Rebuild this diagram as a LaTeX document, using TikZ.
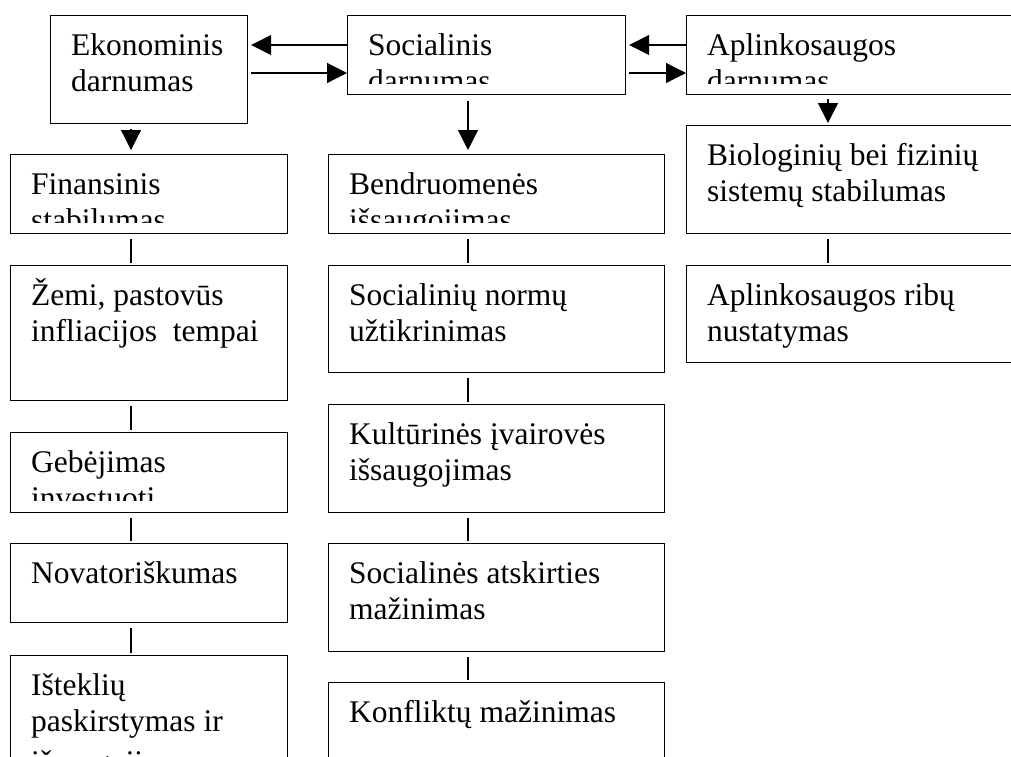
\documentclass[tikz,border=0pt]{standalone}
\usepackage{fontspec}
\setmainfont{Liberation Serif}
\usetikzlibrary{arrows.meta}

\def\txtsize{\fontsize{31.5pt}{36pt}\selectfont}
% box: name, x1, y1, x2, y2, text cut at y, text
\newcommand{\blokas}[7]{%
	\node[blok, minimum width=#4pt-#2pt, minimum height=#5pt-#3pt] (#1) at (#2,#3) {};
	\begin{scope}
		\clip (#2,#3) rectangle (#4,#6);
		\node[tekstas] (#1-t) at (#2+21,#3+10) {\rule{0pt}{30pt}#7};
	\end{scope}
}

\begin{document}
\begin{tikzpicture}[x=1pt,y=-1pt,
		blok/.style={draw, line width=1.2pt, inner sep=0, anchor=north west},
		tekstas/.style={inner sep=0, anchor=north west, align=left, font=\txtsize},
		rodykle/.style={line width=1.2pt, -{Triangle[length=20pt,width=20pt]}},
		jungtis/.style={line width=1.2pt, shorten <=5pt, shorten >=2pt}]
	\clip (0,0) rectangle (1011,756);

	% top row
	\blokas{eko}{50}{15}{247}{123}{123}{Ekonominis\\darnumas}
	\blokas{soc}{347}{15}{625}{94}{83}{Socialinis\\darnumas}
	\blokas{apl}{686}{15}{1100}{94}{83}{Aplinkosaugos\\darnumas}

	% Ekonominis column
	\blokas{fin}{10}{154}{287}{233}{222}{Finansinis\\stabilumas}
	\blokas{zemi}{10}{265}{287}{400}{400}{Žemi, pastovūs\\infliacijos\ \ tempai}
	\blokas{geb}{10}{432}{287}{512}{500}{Gebėjimas\\investuoti}
	\blokas{nov}{10}{543}{287}{622}{622}{Novatoriškumas}
	\blokas{ist}{10}{655}{287}{820}{820}{Išteklių\\paskirstymas ir\\[5pt]išsaugojimas}

	% Socialinis column
	\blokas{ben}{328}{154}{664}{233}{222}{Bendruomenės\\išsaugojimas}
	\blokas{norm}{328}{265}{664}{372}{372}{Socialinių normų\\užtikrinimas}
	\blokas{kult}{328}{404}{664}{512}{512}{Kultūrinės įvairovės\\išsaugojimas}
	\blokas{atsk}{328}{543}{664}{651}{651}{Socialinės atskirties\\mažinimas}
	\blokas{konf}{328}{682}{664}{820}{820}{Konfliktų mažinimas}

	% Aplinkosaugos column
	\blokas{bio}{686}{125}{1100}{233}{233}{Biologinių bei fizinių\\sistemų stabilumas}
	\blokas{ribu}{686}{265}{1100}{362}{362}{Aplinkosaugos ribų\\nustatymas}

	\coordinate (r1) at (0,45);
	\coordinate (r2) at (0,73);
	\coordinate (c1) at (131,0);
	\coordinate (c2) at (468,0);
	\coordinate (c3) at (828,0);

	% arrows between the top boxes
	\draw[rodykle, shorten >=3pt] (soc.west |- r1) -- (eko.east |- r1);
	\draw[rodykle, shorten <=3pt] (eko.east |- r2) -- (soc.west |- r2);
	\draw[rodykle, shorten >=3pt] (apl.west |- r1) -- (soc.east |- r1);
	\draw[rodykle, shorten <=3pt] (soc.east |- r2) -- (apl.west |- r2);

	% down arrows
	\draw[rodykle, shorten <=5pt, shorten >=4pt] (eko.south -| c1) -- (fin.north -| c1);
	\draw[rodykle, shorten <=6pt, shorten >=4pt] (soc.south -| c2) -- (ben.north -| c2);
	\draw[rodykle, shorten <=4pt, shorten >=2pt] (apl.south -| c3) -- (bio.north -| c3);

	% plain connectors
	\draw[jungtis] (fin.south -| c1) -- (zemi.north -| c1);
	\draw[jungtis] (zemi.south -| c1) -- (geb.north -| c1);
	\draw[jungtis] (geb.south -| c1) -- (nov.north -| c1);
	\draw[jungtis] (nov.south -| c1) -- (ist.north -| c1);
	\draw[jungtis] (ben.south -| c2) -- (norm.north -| c2);
	\draw[jungtis] (norm.south -| c2) -- (kult.north -| c2);
	\draw[jungtis] (kult.south -| c2) -- (atsk.north -| c2);
	\draw[jungtis] (atsk.south -| c2) -- (konf.north -| c2);
	\draw[jungtis] (bio.south -| c3) -- (ribu.north -| c3);
\end{tikzpicture}
\end{document}
